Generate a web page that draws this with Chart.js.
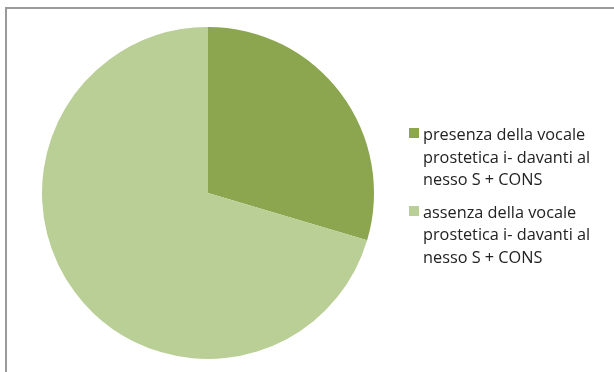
<!DOCTYPE html>
<html>
<head>
<meta charset="utf-8">
<script src="https://cdn.jsdelivr.net/npm/chart.js@4"></script>
<style>
    body { margin: 0; background: #fff; }
    #wrap { position: relative; width: 614px; height: 372px; overflow: hidden; }
    #frame { position: absolute; left: 5px; top: 7px; width: 640px; height: 400px; border: 2px solid #9a9a9a; }
    #pie { position: absolute; left: 0; top: 0; }
    #legend { position: absolute; left: 409px; top: 123px; font-family: "Open Sans", sans-serif; font-size: 16.3px; line-height: 22.5px; color: #222; }
    .item { position: relative; padding-left: 14px; margin-bottom: 10px; }
    .box { position: absolute; left: 0; top: 5px; width: 10px; height: 10px; }
</style>
</head>
<body>
<div id="wrap">
    <div id="frame"></div>
    <canvas id="pie" width="614" height="372"></canvas>
    <div id="legend"></div>
</div>
<script>
const categories = [
    ['presenza della vocale', 'prostetica i- davanti al', 'nesso S + CONS'],
    ['assenza della vocale', 'prostetica i- davanti al', 'nesso S + CONS']
];
const shares = [29.6, 70.4];
const colors = ['#8ba64f', '#b9cf96'];

const pieChart = new Chart(document.getElementById('pie').getContext('2d'), {
    type: 'pie',
    data: {
        labels: categories.map(c => c.join(' ')),
        datasets: [{ data: shares, backgroundColor: colors, borderWidth: 0 }]
    },
    options: {
        responsive: false,
        animation: false,
        layout: { padding: { left: 42, top: 27, right: 240, bottom: 13 } },
        plugins: { legend: { display: false }, tooltip: { enabled: false } }
    }
});

// legend built from the same labels and colours
const legend = document.getElementById('legend');
categories.forEach((lines, i) => {
    const item = document.createElement('div');
    item.className = 'item';
    const box = document.createElement('span');
    box.className = 'box';
    box.style.background = colors[i];
    item.appendChild(box);
    lines.forEach(line => {
        const row = document.createElement('div');
        row.textContent = line;
        item.appendChild(row);
    });
    legend.appendChild(item);
});
</script>
</body>
</html>
